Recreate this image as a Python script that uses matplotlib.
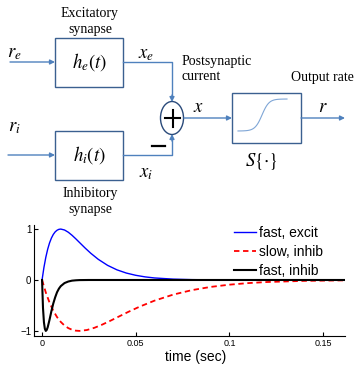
import numpy as np
import matplotlib
matplotlib.use('Agg')
import matplotlib.pyplot as plt
from matplotlib.patches import Rectangle, Ellipse

plt.rcParams['mathtext.fontset'] = 'stix'

# curves
t_fast_ex = [0, 0.001, 0.002, 0.003, 0.004, 0.005, 0.006, 0.007, 0.008, 0.009,
             0.010, 0.012, 0.014, 0.016, 0.018, 0.020, 0.023, 0.026, 0.030, 0.035,
             0.040, 0.045, 0.050, 0.055, 0.060, 0.070, 0.080, 0.090, 0.100, 0.120, 0.162]
y_fast_ex = [0, 0.246, 0.445, 0.604, 0.729, 0.824, 0.895, 0.945, 0.977, 0.995,
             1.0, 0.982, 0.938, 0.878, 0.809, 0.736, 0.627, 0.525, 0.406, 0.287,
             0.199, 0.136, 0.092, 0.061, 0.040, 0.017, 0.007, 0.003, 0.001, 0.0, 0.0]

t_slow_in = [0, 0.002, 0.004, 0.006, 0.008, 0.010, 0.012, 0.014, 0.016, 0.018,
             0.020, 0.024, 0.028, 0.032, 0.036, 0.040, 0.046, 0.052, 0.060, 0.070,
             0.080, 0.090, 0.100, 0.110, 0.120, 0.140, 0.162]
y_slow_in = [0, -0.246, -0.445, -0.604, -0.729, -0.824, -0.895, -0.945, -0.977, -0.995,
             -1.0, -0.982, -0.938, -0.878, -0.809, -0.736, -0.627, -0.525, -0.406, -0.287,
             -0.199, -0.136, -0.092, -0.061, -0.040, -0.017, -0.007]

t_fast_in = [0, 0.0005, 0.001, 0.0015, 0.002, 0.0025, 0.003, 0.004, 0.005, 0.006,
             0.007, 0.008, 0.009, 0.010, 0.012, 0.014, 0.016, 0.018, 0.020, 0.025, 0.162]
y_fast_in = [0, -0.55, -0.83, -0.96, -1.0, -0.98, -0.93, -0.78, -0.61, -0.46,
             -0.34, -0.24, -0.17, -0.12, -0.06, -0.03, -0.013, -0.006, -0.002, 0, 0]

legend_labels = ['fast, excit', 'slow, inhib', 'fast, inhib']
x_ticks = [0, 0.05, 0.1, 0.15]
x_ticklabels = ['0', '0.05', '0.1', '0.15']
y_ticks = [-1, 0, 1]
y_ticklabels = ['\u22121', '0', '1']

W, H = 354, 370
fig = plt.figure(figsize=(W / 100, H / 100), dpi=100)

# ---- block diagram (pixel coordinates) ----
dg = fig.add_axes([0, 0, 1, 1])
dg.set_xlim(0, W)
dg.set_ylim(H, 0)
dg.axis('off')

line_c = '#4f81bd'
box_c = '#3b6090'
serif = 'Liberation Serif'


def arrow(x0, y0, x1, y1):
    dg.annotate('', xy=(x1, y1), xytext=(x0, y0),
                arrowprops=dict(arrowstyle='-|>', color=line_c, lw=1.0,
                                mutation_scale=7, shrinkA=0, shrinkB=0))


def box(x0, y0, x1, y1):
    dg.add_patch(Rectangle((x0, y0), x1 - x0, y1 - y0, fill=False,
                           ec=box_c, lw=1.0))


# excitatory branch
dg.text(90, 13, 'Excitatory', ha='center', va='center', family=serif, fontsize=10)
dg.text(90, 29, 'synapse', ha='center', va='center', family=serif, fontsize=10)
box(55, 38, 123, 87)
dg.text(89, 62, r'$h_e(t)$', ha='center', va='center', fontsize=13.5)
dg.text(14, 52, r'$r_e$', ha='center', va='center', fontsize=13.5)
arrow(10, 62, 55, 62)
dg.text(146, 53, r'$x_e$', ha='center', va='center', fontsize=13.5)
dg.plot([123, 172, 172], [62, 62, 96], color=line_c, lw=1.0)
arrow(172, 95, 172, 102)

# inhibitory branch
box(55, 131, 123, 180)
dg.text(89, 155, r'$h_i(t)$', ha='center', va='center', fontsize=13.5)
dg.text(14, 126, r'$r_i$', ha='center', va='center', fontsize=13.5)
arrow(8, 155, 55, 155)
dg.text(146, 173, r'$x_i$', ha='center', va='center', fontsize=13.5)
dg.plot([123, 172, 172], [155, 155, 140], color=line_c, lw=1.0)
arrow(172, 141, 172, 134)
dg.plot([152, 165], [146, 146], color='black', lw=1.6)
dg.text(90, 193, 'Inhibitory', ha='center', va='center', family=serif, fontsize=10)
dg.text(90, 209, 'synapse', ha='center', va='center', family=serif, fontsize=10)

# summing node
dg.add_patch(Ellipse((172, 118), 23, 33, fill=False, ec='#2a4a7a', lw=1.0))
dg.plot([165, 180], [118, 118], color='black', lw=1.5)
dg.plot([172.5, 172.5], [110, 127], color='black', lw=1.5)
dg.text(182, 61, 'Postsynaptic', ha='left', va='center', family=serif, fontsize=10)
dg.text(182, 77, 'current', ha='left', va='center', family=serif, fontsize=10)
dg.text(198, 106, r'$x$', ha='center', va='center', fontsize=13.5)
arrow(184, 118, 232, 118)

# nonlinearity
box(232, 93, 301, 143)
sx = np.linspace(238, 287, 60)
sy = 115 - 16 * np.tanh((sx - 262) / 7)
dg.plot(sx, sy, color='#7fa6d6', lw=0.8)
dg.text(261, 161, r'$S\{\cdot\}$', ha='center', va='center', fontsize=13.5)
dg.text(354, 78, 'Output rate', ha='right', va='center', family=serif, fontsize=10)
dg.text(323, 106, r'$r$', ha='center', va='center', fontsize=13.5)
arrow(301, 118, 345, 118)

# ---- response plot ----
left, right, top, bottom = 34, 345, 225, 336
ax = fig.add_axes([left / W, 1 - bottom / H, (right - left) / W, (bottom - top) / H])
ax.plot(t_fast_ex, y_fast_ex, color='blue', lw=1.0, label=legend_labels[0])
ax.plot(t_slow_in, y_slow_in, color='red', lw=1.3, ls=(0, (3, 2)), label=legend_labels[1])
ax.plot(t_fast_in, y_fast_in, color='black', lw=1.5, label=legend_labels[2])
ax.set_xlim(-0.0043, 0.1617)
ax.set_ylim(-1.1, 1.08)
ax.spines['top'].set_visible(False)
ax.spines['right'].set_visible(False)
ax.set_xticks(x_ticks)
ax.set_xticklabels(x_ticklabels, fontsize=6.5, family='Liberation Sans')
ax.set_yticks(y_ticks)
ax.set_yticklabels(y_ticklabels, fontsize=7, family='Liberation Sans')
ax.tick_params(direction='in', length=3, width=0.8, pad=2)
ax.set_xlabel('time (sec)', fontsize=10, family='Liberation Sans', labelpad=1)
ax.xaxis.set_label_coords(0.52, -0.13)
ax.legend(loc='upper left', bbox_to_anchor=(234 / W, 1 - 226 / H),
          bbox_transform=fig.transFigure, frameon=False, borderpad=0,
          borderaxespad=0, handlelength=1.6, handletextpad=0.2,
          labelspacing=0.35, prop={'family': 'Liberation Sans', 'size': 10})

fig.savefig('out.png', dpi=100)
